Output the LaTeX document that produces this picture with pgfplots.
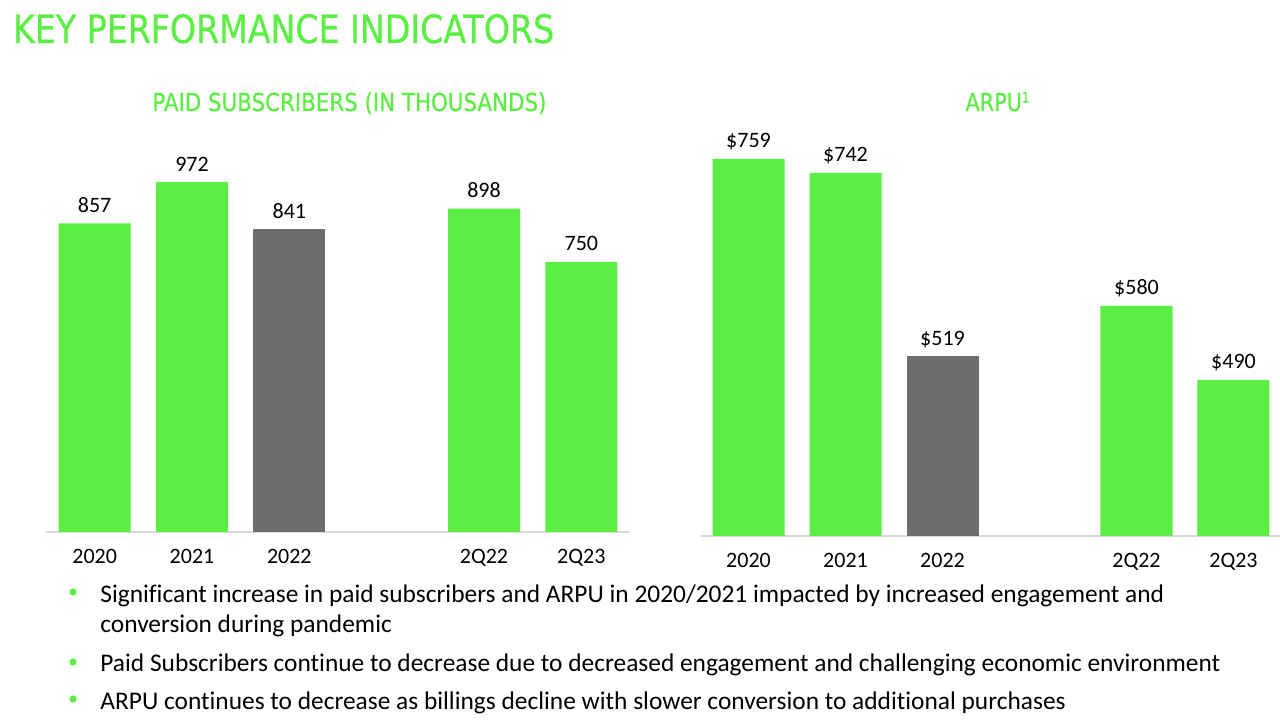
\documentclass[border=0pt]{standalone}
\usepackage{pgfplots}
\pgfplotsset{compat=1.18}
\usepackage{fontspec}
\setmainfont{Carlito}[Ligatures={TeX,NoCommon}]
\newfontfamily\headfont{DejaVu Sans}[FakeStretch=0.82, FakeBold=0.6]
\definecolor{kgreen}{RGB}{91,238,67}
\definecolor{kgray}{RGB}{109,109,107}
\definecolor{kaxis}{RGB}{217,217,217}
\begin{document}
\begin{tikzpicture}
\useasboundingbox (0,0) rectangle (640pt,361.5pt);
\pgfplotsset{
  kpi/.style={
    scale only axis,
    axis y line=none,
    axis x line*=bottom,
    x axis line style={kaxis, line width=1pt},
    xtick={0,1,2,4,5},
    xticklabels={2020,2021,2022,2Q22,2Q23},
    xtick style={draw=none},
    xticklabel style={anchor=base, yshift=-11.5pt, inner sep=0pt, font=\fontsize{11}{13}\selectfont},
    xmin=-0.5, xmax=5.5,
    ybar, bar width=36pt,
    clip=false,
    nodes near coords style={anchor=base, yshift=5.5pt, inner sep=0pt, font=\fontsize{11}{13}\selectfont, text=black},
  }
}
% Left: paid subscribers
\begin{axis}[kpi, at={(23pt,95.5pt)}, anchor=south west, width=292pt, height=180pt,
  ymin=0, ymax=1000,
  nodes near coords={\pgfmathprintnumber[assume math mode=true]{\pgfplotspointmeta}}]
\addplot[fill=kgreen, draw=none, bar shift=0pt] coordinates {(0,857) (1,972) (4,898) (5,750)};
\addplot[fill=kgray, draw=none, bar shift=0pt] coordinates {(2,841)};
\end{axis}
% Right: ARPU
\begin{axis}[kpi, at={(350pt,93.5pt)}, anchor=south west, width=291pt, height=205.4pt,
  ymin=300, ymax=800,
  nodes near coords={\$\pgfmathprintnumber[assume math mode=true]{\pgfplotspointmeta}}]
\addplot[fill=kgreen, draw=none, bar shift=0pt] coordinates {(0,759) (1,742) (4,580) (5,490)};
\addplot[fill=kgray, draw=none, bar shift=0pt] coordinates {(2,519)};
\end{axis}
% Titles
\node[anchor=base west, inner sep=0pt, text=kgreen] at (6.35pt,340pt)
  {\resizebox{270.5pt}{14.5pt}{\headfont KEY PERFORMANCE INDICATORS}};
\node[anchor=base west, inner sep=0pt, text=kgreen] at (76pt,306pt)
  {\resizebox{197pt}{\height}{\headfont\fontsize{12.35}{14}\selectfont PAID SUBSCRIBERS (IN THOUSANDS)}};
\node[anchor=base, inner sep=0pt, text=kgreen] at (499pt,306pt)
  {\resizebox{32.5pt}{\height}{\headfont\fontsize{12.35}{14}\selectfont ARPU\textsuperscript{\fontsize{7}{8}\selectfont 1}}};
% Bullets
\fill[kgreen] (36.5pt,65.5pt) circle (1.8pt);
\fill[kgreen] (36.5pt,30.5pt) circle (1.8pt);
\fill[kgreen] (36.5pt,12pt) circle (1.8pt);
\begin{scope}[every node/.style={anchor=base west, inner sep=0pt, font=\fontsize{12.7}{15}\selectfont}]
\node at (50pt,60pt) {Significant increase in paid subscribers and ARPU in 2020/2021 impacted by increased engagement and};
\node at (50pt,45pt) {conversion during pandemic};
\node at (50pt,25.5pt) {Paid Subscribers continue to decrease due to decreased engagement and challenging economic environment};
\node at (50pt,6.5pt) {ARPU continues to decrease as billings decline with slower conversion to additional purchases};
\end{scope}
\end{tikzpicture}
\end{document}
